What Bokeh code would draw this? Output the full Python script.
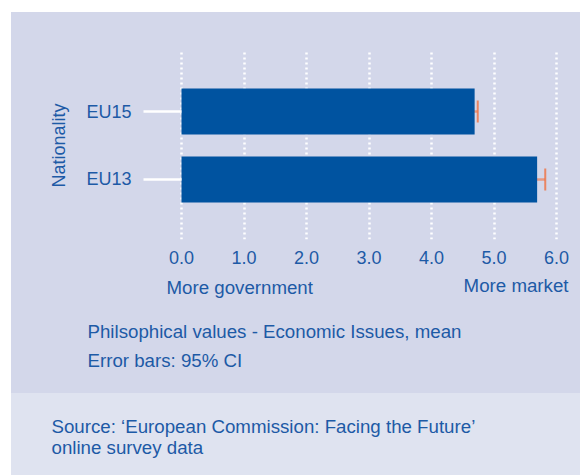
from bokeh.plotting import figure
from bokeh.models import (ColumnDataSource, FactorRange, Range1d, FixedTicker,
                          PrintfTickFormatter, Whisker, TeeHead, Label)
from bokeh.embed import file_html
from bokeh.resources import INLINE

# ---- data ----
categories = ["EU13", "EU15"]
means = [5.69, 4.69]
ci_low = [5.55, 4.60]
ci_high = [5.82, 4.74]
x_ticks = [0, 1, 2, 3, 4, 5, 6]

PANEL = "#d3d7ea"
PANEL2 = "#dfe3f0"
BAR = "#0053a0"
TXT = "#1d5aa6"
ERR = "#f07040"
FONT = "Liberation Sans"
FS = "18.7px"

src = ColumnDataSource(dict(cat=categories, val=means, lo=ci_low, hi=ci_high))

# ---------------- chart figure ----------------
W, HA = 569, 258
ML, MR, MT, MB = 167, 21, 39, 31
pad = 0.048
p = figure(width=W, height=HA, output_backend="svg", toolbar_location=None,
           x_range=Range1d(x_ticks[0] - pad, x_ticks[-1] + pad),
           y_range=FactorRange(factors=categories, range_padding=0.3825,
                               range_padding_units="absolute"),
           min_border_left=ML, min_border_right=MR, min_border_top=MT,
           min_border_bottom=MB, margin=(12, 0, 0, 11))
p.styles = {"background": PANEL}
p.background_fill_color = None
p.border_fill_color = None
p.outline_line_color = None

p.hbar(y="cat", left=0, right="val", height=0.676, source=src,
       fill_color=BAR, line_color=None)

wh = Whisker(source=src, base="cat", lower="lo", upper="hi", dimension="width",
             line_color=ERR, line_alpha=0.6, line_width=2.5,
             upper_head=TeeHead(size=22, line_color=ERR, line_alpha=0.8, line_width=2),
             lower_head=TeeHead(size=22, line_color=ERR, line_alpha=0.8, line_width=2))
p.add_layout(wh)

xa = p.xaxis[0]
xa.ticker = FixedTicker(ticks=x_ticks)
xa.formatter = PrintfTickFormatter(format="%.1f")
xa.axis_line_color = None
xa.major_tick_line_color = None
xa.minor_tick_line_color = None
xa.major_label_standoff = 5
xa.major_label_text_font = FONT
xa.major_label_text_font_size = "18px"
xa.major_label_text_color = TXT

ya = p.yaxis[0]
ya.axis_line_color = None
ya.major_tick_line_color = "white"
ya.major_tick_line_width = 2.5
ya.major_tick_out = 35
ya.major_tick_in = 3
ya.major_label_standoff = 12
ya.major_label_text_font = FONT
ya.major_label_text_font_size = "18px"
ya.major_label_text_color = TXT
ya.axis_label = "Nationality"
ya.axis_label_text_font = FONT
ya.axis_label_text_font_size = "18px"
ya.axis_label_text_font_style = "normal"
ya.axis_label_text_color = TXT
ya.axis_label_standoff = 14

p.xgrid.grid_line_color = "white"
p.xgrid.grid_line_width = 2.5
p.xgrid.grid_line_dash = "2 3"
p.ygrid.grid_line_color = None

# ---------------- notes figure (pixel coordinates) ----------------
HB = 205
SPLIT = 123
b = figure(width=W, height=HB, output_backend="svg", toolbar_location=None,
           x_range=Range1d(0, W), y_range=Range1d(HB, 0), min_border=0,
           x_axis_location=None, y_axis_location=None, margin=(0, 0, 0, 11))
b.styles = {"background": f"linear-gradient(to bottom, {PANEL} {SPLIT}px, {PANEL2} {SPLIT}px)"}
b.grid.visible = False
b.outline_line_color = None
b.background_fill_color = None
b.border_fill_color = None


def lab(text, x, y, align="left"):
    b.add_layout(Label(x=x, y=y, text=text, text_font=FONT, text_font_size=FS,
                       text_color=TXT, text_align=align,
                       text_baseline="alphabetic"))


lab("More government", 155, 17)
lab("More market", 557, 15, align="right")
lab("Philsophical values - Economic Issues, mean", 76, 61)
lab("Error bars: 95% CI", 76, 90)
lab("Source: \u2018European Commission: Facing the Future\u2019", 40, 156)
lab("online survey data", 40, 177)

open("out.html", "w").write(file_html([p, b], INLINE))
